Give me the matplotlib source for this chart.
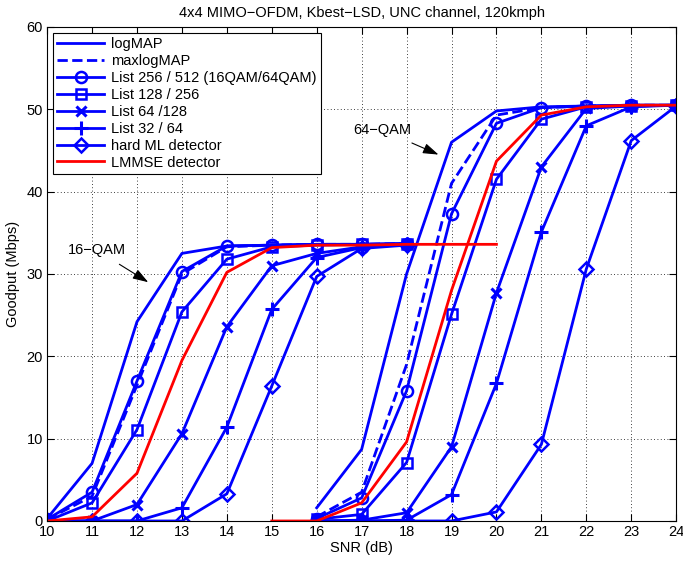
import matplotlib.pyplot as plt

plt.rcParams['font.family'] = ['Liberation Sans', 'DejaVu Sans']

# SNR grids for the two modulations
snr16 = [10, 11, 12, 13, 14, 15, 16, 17, 18]
snr64 = [16, 17, 18, 19, 20, 21, 22, 23, 24]
snr16_lmmse = [10, 11, 12, 13, 14, 15, 16, 17, 18, 19, 20]
snr64_lmmse = [15, 16, 17, 18, 19, 20, 21, 22, 23, 24]

# goodput (Mbps), 16-QAM
logmap_16 = [0.3, 7.0, 24.2, 32.5, 33.4, 33.5, 33.6, 33.6, 33.7]
maxlog_16 = [0.2, 3.0, 16.5, 30.0, 33.3, 33.5, 33.6, 33.6, 33.7]
list256_16 = [0.2, 3.5, 17.0, 30.3, 33.4, 33.5, 33.6, 33.6, 33.7]
list128_16 = [0.0, 2.2, 11.1, 25.4, 31.8, 33.3, 33.5, 33.6, 33.6]
list64_16 = [0.0, 0.0, 2.0, 10.6, 23.6, 31.0, 32.5, 33.3, 33.6]
list32_16 = [0.0, 0.0, 0.0, 1.6, 11.4, 25.7, 32.0, 33.2, 33.6]
hardml_16 = [0.0, 0.0, 0.0, 0.0, 3.3, 16.4, 29.7, 33.1, 33.5]
lmmse_16 = [0.0, 0.5, 5.8, 19.5, 30.2, 33.2, 33.5, 33.5, 33.6, 33.6, 33.6]

# goodput (Mbps), 64-QAM
logmap_64 = [1.6, 8.7, 30.0, 46.0, 49.8, 50.3, 50.4, 50.5, 50.5]
maxlog_64 = [0.5, 3.5, 19.0, 41.0, 49.3, 50.2, 50.4, 50.5, 50.5]
list256_64 = [0.3, 2.8, 15.8, 37.3, 48.3, 50.2, 50.4, 50.5, 50.5]
list128_64 = [0.2, 0.8, 7.1, 25.1, 41.5, 48.8, 50.3, 50.4, 50.5]
list64_64 = [0.0, 0.1, 1.0, 9.0, 27.7, 43.0, 50.1, 50.4, 50.5]
list32_64 = [0.0, 0.0, 0.1, 3.2, 16.7, 35.1, 48.0, 50.3, 50.5]
hardml_64 = [0.0, 0.0, 0.0, 0.0, 1.1, 9.3, 30.6, 46.2, 50.4]
lmmse_64 = [0.0, 0.0, 2.2, 9.6, 28.0, 43.7, 49.3, 50.3, 50.5, 50.5]

labels = ["logMAP", "maxlogMAP", "List 256 / 512 (16QAM/64QAM)", "List 128 / 256",
          "List 64 /128", "List 32 / 64", "hard ML detector", "LMMSE detector"]

blue = "#0000ff"
red = "#ff0000"
lw = 2.0

styles = [
    dict(color=blue, ls="-", marker=None),
    dict(color=blue, ls="--", marker=None),
    dict(color=blue, ls="-", marker="o", ms=8, mfc="none", mew=1.8),
    dict(color=blue, ls="-", marker="s", ms=7.5, mfc="none", mew=1.8),
    dict(color=blue, ls="-", marker="x", ms=7, mew=2.2),
    dict(color=blue, ls="-", marker="+", ms=10, mew=2.2),
    dict(color=blue, ls="-", marker="D", ms=7.5, mfc="none", mew=1.8),
    dict(color=red, ls="-", marker=None),
]

series16 = [logmap_16, maxlog_16, list256_16, list128_16, list64_16, list32_16, hardml_16]
series64 = [logmap_64, maxlog_64, list256_64, list128_64, list64_64, list32_64, hardml_64]

fig = plt.figure(figsize=(6.83, 5.62), dpi=100)
ax = fig.add_axes([0.069, 0.073, 0.921, 0.879])

handles = []
for i in range(7):
    st = styles[i]
    h, = ax.plot(snr16, series16[i], lw=lw, **st)
    ax.plot(snr64, series64[i], lw=lw, **st)
    handles.append(h)
h, = ax.plot(snr16_lmmse, lmmse_16, lw=lw, **styles[7])
ax.plot(snr64_lmmse, lmmse_64, lw=lw, **styles[7])
handles.append(h)

ax.set_xlim(10, 24)
ax.set_ylim(0, 60)
ax.set_xticks(range(10, 25))
ax.set_yticks(range(0, 61, 10))
ax.grid(True, ls=(0, (1, 3)), color="black", lw=0.6)
ax.tick_params(direction="in", top=True, right=True, labelsize=10.5, length=5, pad=3)
for s in ax.spines.values():
    s.set_linewidth(0.8)

ax.set_xlabel("SNR (dB)", fontsize=10.5, labelpad=1)
ax.set_ylabel("Goodput (Mbps)", fontsize=10.5, labelpad=5)
ax.set_title("4x4 MIMO\u2212OFDM, Kbest\u2212LSD, UNC channel, 120kmph", fontsize=10.5, pad=7)

arrow = dict(arrowstyle="-|>,head_length=0.9,head_width=0.3", color="black", lw=0.8,
             shrinkA=6, shrinkB=0)
ax.annotate("16\u2212QAM", xy=(12.25, 29.0), xytext=(11.1, 32.9), fontsize=10.5,
            ha="center", va="center", arrowprops=arrow)
ax.annotate("64\u2212QAM", xy=(18.71, 44.5), xytext=(17.45, 47.5), fontsize=10.5,
            ha="center", va="center", arrowprops=arrow)

leg = ax.legend(handles, labels, loc="upper left", fontsize=10.5, fancybox=False,
                edgecolor="black", framealpha=1, borderaxespad=0.4,
                handlelength=3.2, labelspacing=0.2, borderpad=0.3, handletextpad=0.5)
leg.get_frame().set_linewidth(0.8)

fig.savefig("out.png", dpi=100)
